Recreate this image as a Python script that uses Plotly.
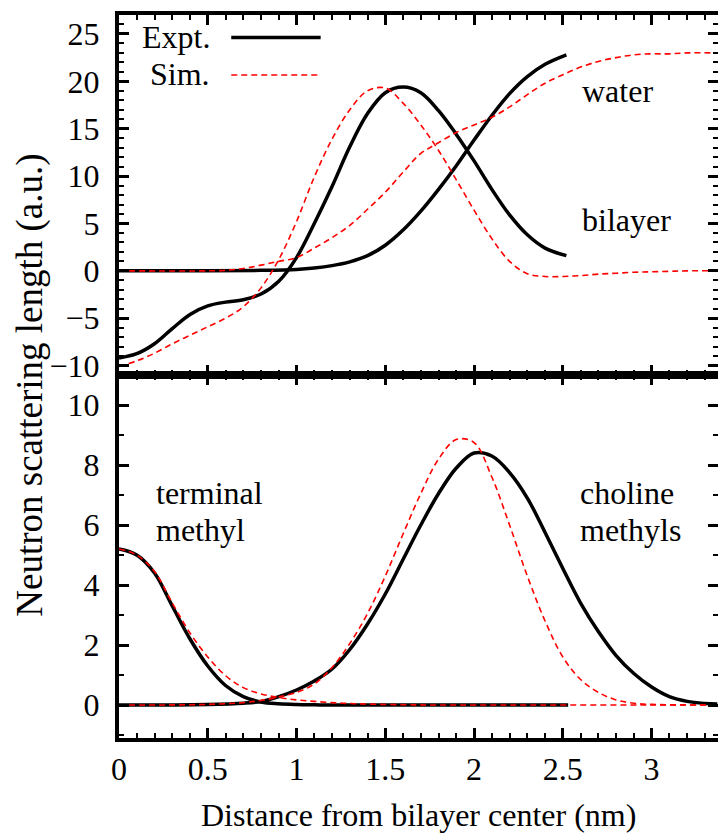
import plotly.graph_objects as go

# ---------------- data ----------------
# Top panel: bilayer / water, experiment (black) and simulation (red)
x_expt_bilayer = [0, 0.1, 0.2, 0.3, 0.4, 0.5, 0.6, 0.7, 0.8, 0.9, 1.0, 1.1, 1.2, 1.3,
                  1.4, 1.5, 1.6, 1.7, 1.8, 1.9, 2.0, 2.1, 2.2, 2.3, 2.4, 2.52]
y_expt_bilayer = [-9.2, -8.75, -7.7, -6.1, -4.6, -3.7, -3.3, -3.05, -2.45, -1.1, 1.4, 5.0, 8.9, 13.1,
                  16.6, 18.8, 19.4, 18.8, 16.9, 14.4, 11.6, 8.6, 5.9, 3.8, 2.4, 1.6]

x_expt_water = [0, 0.5, 0.8, 1.0, 1.1, 1.2, 1.3, 1.4, 1.5, 1.6, 1.7, 1.8, 1.9, 2.0,
                2.1, 2.2, 2.3, 2.4, 2.52]
y_expt_water = [0, 0, 0.05, 0.15, 0.3, 0.55, 0.95, 1.6, 2.7, 4.3, 6.3, 8.6, 11.1, 13.8,
                16.4, 18.7, 20.5, 21.8, 22.8]

x_sim_bilayer = [0, 0.1, 0.2, 0.3, 0.4, 0.5, 0.6, 0.7, 0.8, 0.9, 1.0, 1.1, 1.2, 1.3, 1.4,
                 1.5, 1.6, 1.7, 1.8, 1.9, 2.0, 2.1, 2.2, 2.3, 2.4, 2.5, 2.6, 2.7,
                 2.8, 2.9, 3.0, 3.1, 3.2, 3.37]
y_sim_bilayer = [-10.1, -9.5, -8.7, -7.7, -6.8, -5.9, -5.0, -3.8, -1.8, 1.2, 5.2, 9.9, 13.9, 17.0, 19.0,
                 19.3, 17.7, 15.4, 12.7, 9.6, 6.4, 3.4, 1.0, -0.3, -0.6, -0.6, -0.5, -0.35,
                 -0.25, -0.15, -0.1, -0.05, 0, 0]

x_sim_water = [0, 0.5, 0.6, 0.7, 0.8, 0.9, 1.0, 1.1, 1.2, 1.3, 1.4, 1.5, 1.6, 1.7, 1.78,
               1.9, 2.0, 2.1, 2.2, 2.3, 2.4, 2.5, 2.6, 2.7, 2.8, 2.9, 3.0, 3.1, 3.2, 3.37]
y_sim_water = [0, 0, 0.05, 0.25, 0.6, 1.0, 1.4, 2.4, 3.5, 4.8, 6.5, 8.3, 10.4, 12.4, 13.3,
               14.6, 15.4, 16.2, 17.3, 18.6, 19.8, 20.7, 21.5, 22.1, 22.5, 22.8, 22.9, 22.9, 23.0, 23.0]

# Bottom panel: terminal methyl / choline methyls
x_expt_terminal = [0, 0.1, 0.2, 0.3, 0.4, 0.5, 0.6, 0.7, 0.8, 0.9, 1.0, 1.1, 1.2, 1.5, 2.0, 2.53]
y_expt_terminal = [5.2, 5.0, 4.4, 3.3, 2.2, 1.3, 0.65, 0.28, 0.1, 0.04, 0.015, 0.005, 0, 0, 0, 0]

x_sim_terminal = [0, 0.1, 0.2, 0.3, 0.4, 0.5, 0.6, 0.7, 0.8, 0.9, 1.0, 1.1, 1.2, 1.3, 1.4,
                  1.6, 1.8, 2.2, 2.6, 3.0, 3.37]
y_sim_terminal = [5.2, 5.0, 4.45, 3.4, 2.4, 1.6, 0.98, 0.58, 0.37, 0.25, 0.17, 0.12, 0.08, 0.05, 0.03,
                  0.01, 0, 0, 0, 0, 0]

x_expt_choline = [0, 0.5, 0.7, 0.8, 0.9, 1.0, 1.1, 1.2, 1.3, 1.4, 1.5, 1.6, 1.7, 1.8, 1.9, 2.0,
                  2.1, 2.2, 2.3, 2.4, 2.5, 2.6, 2.7, 2.8, 2.9, 3.0, 3.1, 3.2, 3.3, 3.37]
y_expt_choline = [0, 0.02, 0.06, 0.12, 0.28, 0.5, 0.8, 1.2, 1.85, 2.7, 3.7, 4.85, 6.0, 7.05, 7.9, 8.4,
                  8.3, 7.75, 6.9, 5.75, 4.55, 3.4, 2.45, 1.65, 1.05, 0.6, 0.28, 0.12, 0.05, 0.03]

x_sim_choline = [0, 0.5, 0.7, 0.8, 0.9, 1.0, 1.1, 1.2, 1.3, 1.4, 1.5, 1.6, 1.7, 1.8, 1.9,
                 2.0, 2.1, 2.2, 2.3, 2.4, 2.5, 2.6, 2.7, 2.8, 2.9, 3.0, 3.37]
y_sim_choline = [0, 0.02, 0.08, 0.15, 0.27, 0.42, 0.7, 1.25, 2.05, 3.05, 4.3, 5.7, 7.05, 8.2, 8.85,
                 8.75, 7.6, 6.0, 4.3, 2.8, 1.6, 0.85, 0.42, 0.17, 0.06, 0.02, 0]

x_range = [0, 3.374]
top_range = [-11, 27]
bottom_range = [-1.1, 11]

# ---------------- styles ----------------
FONT = "Liberation Serif, Times New Roman, serif"
FS = 32
FS_YTITLE = 37
BLACK = dict(color="black", width=3.5, shape="spline", smoothing=1.0)
RED = dict(color="#ff0000", width=1.6, dash="6px,4px", shape="spline", smoothing=1.0)

fig = go.Figure()

# top panel (x2, y2)
for xs, ys, ln in [(x_expt_bilayer, y_expt_bilayer, BLACK), (x_expt_water, y_expt_water, BLACK),
                   (x_sim_bilayer, y_sim_bilayer, RED), (x_sim_water, y_sim_water, RED)]:
    fig.add_trace(go.Scatter(x=xs, y=ys, mode="lines", line=ln, xaxis="x2", yaxis="y2",
                             showlegend=False, hoverinfo="skip"))

# bottom panel (x, y)
for xs, ys, ln in [(x_expt_terminal, y_expt_terminal, BLACK), (x_expt_choline, y_expt_choline, BLACK),
                   (x_sim_terminal, y_sim_terminal, RED), (x_sim_choline, y_sim_choline, RED)]:
    fig.add_trace(go.Scatter(x=xs, y=ys, mode="lines", line=ln, xaxis="x", yaxis="y",
                             showlegend=False, hoverinfo="skip"))

axis_common = dict(showline=True, linecolor="black", linewidth=4, mirror="ticks",
                   ticks="inside", ticklen=10, tickwidth=2.5, tickcolor="black",
                   showgrid=False, zeroline=False,
                   tickfont=dict(family=FONT, size=FS, color="black"))
minor = dict(ticks="inside", ticklen=5, tickwidth=2, tickcolor="black")

BOUND = 0.502
W, H = 722, 833

fig.update_layout(
    width=W, height=H,
    margin=dict(l=119, r=0, t=15, b=95),
    paper_bgcolor="white", plot_bgcolor="white",
    font=dict(family=FONT, size=FS, color="black"),
    xaxis=dict(**axis_common, range=x_range, dtick=0.5, tick0=0, anchor="y",
               ticklabelstandoff=0, minor=dict(dtick=0.1, **minor)),
    yaxis=dict(**axis_common, range=bottom_range, dtick=2, tick0=0, domain=[0, BOUND],
               anchor="x", ticklabelstandoff=9, minor=dict(dtick=1, **minor)),
    xaxis2=dict(**axis_common, range=x_range, dtick=0.5, tick0=0, anchor="y2",
                matches="x", showticklabels=False, minor=dict(dtick=0.1, **minor)),
    yaxis2=dict(**axis_common, range=top_range, dtick=5, tick0=0, domain=[BOUND, 1],
                anchor="x2", ticklabelstandoff=9, minor=dict(dtick=1, **minor)),
)

txt = dict(family=FONT, size=FS, color="black")
plot_w = W - 119
plot_h = H - 15 - 95


def px_x(p):
    return (p - 119) / plot_w


def px_y(p):
    return (H - 95 - p) / plot_h


def note(text, x, y, xref, yref, xanchor="left", font=txt, **kw):
    return dict(text=text, x=x, y=y, xref=xref, yref=yref, xanchor=xanchor, yanchor="middle",
                showarrow=False, font=font, borderpad=0, **kw)


annotations = [
    note("water", 2.60, 19.0, "x2", "y2"),
    note("bilayer", 2.60, 5.37, "x2", "y2"),
    note("terminal", 0.20, 7.08, "x", "y"),
    note("methyl", 0.20, 5.85, "x", "y"),
    note("choline", 2.59, 7.08, "x", "y"),
    note("methyls", 2.59, 5.85, "x", "y"),
    # legend texts
    note("Expt.", px_x(212), px_y(37), "paper", "paper", xanchor="right"),
    note("Sim.", px_x(212), px_y(74), "paper", "paper", xanchor="right"),
    # axis titles
    note("Distance from bilayer center (nm)", px_x(420), -0.106, "paper", "paper", xanchor="center"),
    note("Neutron scattering length (a.u.)", px_x(30), 0.488, "paper", "paper", xanchor="center",
         textangle=-90, font=dict(family=FONT, size=FS_YTITLE, color="black")),
]
fig.update_layout(annotations=annotations)

# legend sample lines
fig.add_shape(type="line", xref="paper", yref="paper", x0=px_x(232), x1=px_x(322),
              y0=px_y(37.5), y1=px_y(37.5), line=dict(color="black", width=3.5))
fig.add_shape(type="line", xref="paper", yref="paper", x0=px_x(232), x1=px_x(322),
              y0=px_y(75), y1=px_y(75), line=dict(color="#ff0000", width=1.6, dash="6px,4px"))

fig.write_html("out.html", config={"displayModeBar": False},
               post_script="document.body.style.margin='0px';"
                           "document.body.style.overflow='hidden';"
                           "document.documentElement.style.overflow='hidden';")
